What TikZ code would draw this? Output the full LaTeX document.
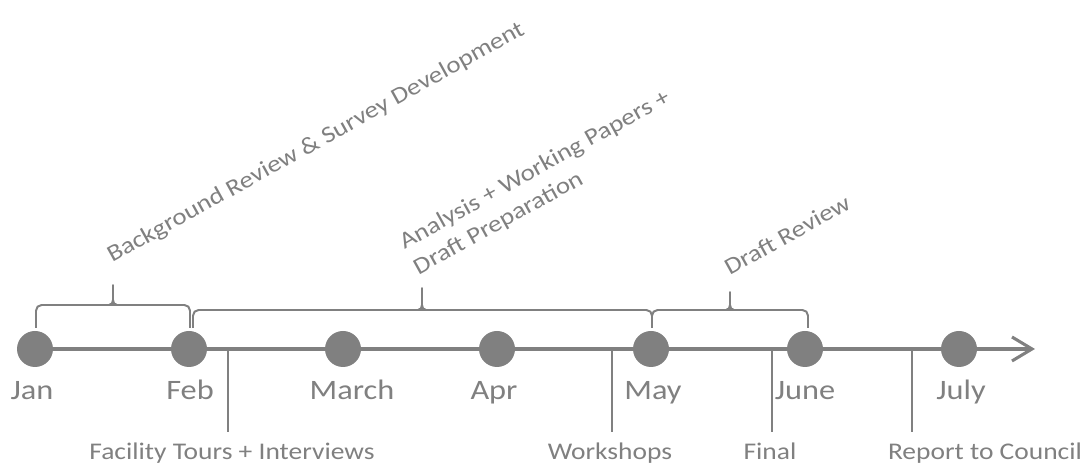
\documentclass[tikz,border=0pt]{standalone}
\usepackage{fontspec}
\setmainfont{Carlito}[FakeStretch = 1.15]
\usetikzlibrary{arrows.meta}
\usetikzlibrary{positioning}
\definecolor{tlgray}{RGB}{128,128,128}
\tikzset{dot/.style = {fill = tlgray, circle, inner sep = 0, minimum size = 0.9cm}}
\tikzset{month/.style = {text = tlgray, font = \fontsize{20}{24}\selectfont, anchor = base}}
\tikzset{event/.style = {text = tlgray, font = \fontsize{17}{20}\selectfont, anchor = base}}
\tikzset{phase/.style = {text = tlgray, font = \fontsize{16.7}{20.6}\selectfont, rotate = 29, align = left}}
\tikzset{brace/.style = {draw = tlgray, line width = 1.4pt, rounded corners = 4pt}}
\tikzset{peak/.style = {draw = tlgray, line width = 1.4pt, line cap = round}}
\tikzset{marker/.style = {draw = tlgray, line width = 2pt}}

\begin{document}
\begin{tikzpicture}
      \useasboundingbox (0, 0) rectangle (27.125, 11.7);

      \coordinate (start) at (0.875, 2.975);
      \coordinate (end) at (25.875, 2.975);
      \draw [tlgray, line width = 2.2pt, -{Straight Barb[length = 0.5cm, width = 0.6cm]}] (start) -- (end);

      \node [dot] (jan) at (0.875, 2.975) {};
      \node [dot] (feb) at (4.725, 2.975) {};
      \node [dot] (mar) at (8.575, 2.975) {};
      \node [dot] (apr) at (12.425, 2.975) {};
      \node [dot] (may) at (16.275, 2.975) {};
      \node [dot] (jun) at (20.125, 2.975) {};
      \node [dot] (jul) at (23.975, 2.975) {};

      \node [month] (janlabel) at (0.8, 1.7) {Jan};
      \node [month] (feblabel) at (4.75, 1.7) {Feb};
      \node [month] (marlabel) at (8.8, 1.7) {March};
      \node [month] (aprlabel) at (12.35, 1.7) {Apr};
      \node [month] (maylabel) at (16.325, 1.7) {May};
      \node [month] (junlabel) at (20.125, 1.7) {June};
      \node [month] (jullabel) at (24.025, 1.7) {July};

      % events below the line
      \coordinate (tours) at (5.7, 2.975);
      \coordinate (toursend) at (5.7, 0.9);
      \coordinate (workshops) at (15.3, 2.975);
      \coordinate (workshopsend) at (15.3, 0.9);
      \coordinate (final) at (19.3, 2.975);
      \coordinate (finalend) at (19.3, 0.9);
      \coordinate (report) at (22.8, 2.975);
      \coordinate (reportend) at (22.8, 0.9);
      \draw [marker] (tours) -- (toursend);
      \draw [marker] (workshops) -- (workshopsend);
      \draw [marker] (final) -- (finalend);
      \draw [marker] (report) -- (reportend);
      \node [event] (tourslabel) at (5.8, 0.2) {Facility Tours + Interviews};
      \node [event] (workshopslabel) at (15.25, 0.2) {Workshops};
      \node [event] (finallabel) at (19.25, 0.2) {Final};
      \node [event] (reportlabel) at (24.625, 0.2) {Report to Council};

      % brackets above the line
      \draw [brace] (0.9, 3.5) -- (0.9, 4.075) -- (4.75, 4.075) -- (4.75, 3.5);
      \draw [peak] (2.725, 4.075) to [out = 0, in = -90] (2.825, 4.2) -- (2.825, 4.575);
      \draw [peak] (2.925, 4.075) to [out = 180, in = -90] (2.825, 4.2);
      \draw [brace] (4.825, 3.5) -- (4.825, 3.95) -- (16.3, 3.95) -- (16.3, 3.5);
      \draw [peak] (10.45, 3.95) to [out = 0, in = -90] (10.55, 4.075) -- (10.55, 4.5);
      \draw [peak] (10.65, 3.95) to [out = 180, in = -90] (10.55, 4.075);
      \draw [brace] (16.3, 3.5) -- (16.3, 3.95) -- (20.2, 3.95) -- (20.2, 3.5);
      \draw [peak] (18.15, 3.95) to [out = 0, in = -90] (18.25, 4.075) -- (18.25, 4.4);
      \draw [peak] (18.35, 3.95) to [out = 180, in = -90] (18.25, 4.075);

      \node [phase] (background) at (7.9, 8.125) {Background Review \& Survey Development};
      \node [phase] (analysis) at (13.55, 7.125) {Analysis + Working Papers +\\ Draft Preparation};
      \node [phase] (review) at (19.675, 5.825) {Draft Review};
    \end{tikzpicture}
\end{document}
